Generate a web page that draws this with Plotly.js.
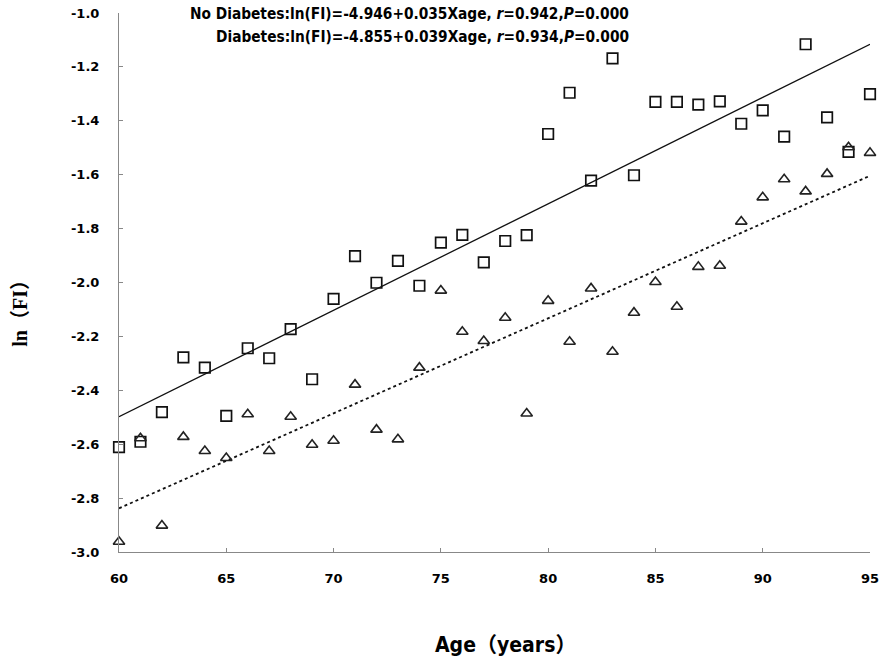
<!DOCTYPE html>
<html>
<head>
<meta charset="utf-8">
<script src="https://cdn.plot.ly/plotly-3.0.1.min.js"></script>
<style>html,body{margin:0;padding:0;background:#fff;}#chart{width:886px;height:662px;}</style>
</head>
<body>
<div id="chart"></div>
<script>
const ages = [60,61,62,63,64,65,66,67,68,69,70,71,72,73,74,75,76,77,78,79,80,81,82,83,84,85,86,87,88,89,90,91,92,93,94,95];
// squares (solid fit line)
const diabetesLnFI = [-2.611,-2.591,-2.481,-2.278,-2.316,-2.495,-2.244,-2.281,-2.173,-2.359,-2.061,-1.902,-2.001,-1.920,-2.012,-1.852,-1.823,-1.925,-1.846,-1.824,-1.449,-1.296,-1.622,-1.168,-1.602,-1.330,-1.330,-1.340,-1.328,-1.411,-1.361,-1.459,-1.116,-1.387,-1.515,-1.301];
// triangles (dotted fit line)
const noDiabetesLnFI = [-2.962,-2.578,-2.902,-2.573,-2.625,-2.651,-2.489,-2.625,-2.498,-2.602,-2.587,-2.379,-2.546,-2.582,-2.316,-2.030,-2.183,-2.217,-2.131,-2.486,-2.068,-2.220,-2.022,-2.257,-2.112,-1.998,-2.090,-1.942,-1.938,-1.774,-1.684,-1.617,-1.662,-1.597,-1.498,-1.519];
// fitted lines as drawn (end points)
const fitAges = [60, 95];
const fitDiabetes = [-2.498, -1.116];
const fitNoDiabetes = [-2.838, -1.604];
const xTickVals = [60,65,70,75,80,85,90,95];
const yTickVals = [-3.0,-2.8,-2.6,-2.4,-2.2,-2.0,-1.8,-1.6,-1.4,-1.2,-1.0];
const eqLines = [
  'No Diabetes:ln(FI)=-4.946+0.035Xage, <i>r</i>=0.942,<i>P</i>=0.000',
  'Diabetes:ln(FI)=-4.855+0.039Xage, <i>r</i>=0.934,<i>P</i>=0.000'
];
const xTitle = 'Age（years）';
const yTitle = 'ln（FI）';

const tickFont = {family: 'DejaVu Sans, sans-serif', size: 13, color: '#000', weight: 'bold'};
const condBold = 'DejaVu Sans Condensed, Noto Sans CJK SC, sans-serif';

const traces = [
  {x: fitAges, y: fitDiabetes, mode: 'lines', line: {color: '#111', width: 1.3}, hoverinfo: 'skip'},
  {x: fitAges, y: fitNoDiabetes, mode: 'lines', line: {color: '#111', width: 1.8, dash: 'dot'}, hoverinfo: 'skip'},
  {x: ages, y: diabetesLnFI, mode: 'markers', cliponaxis: false,
   marker: {symbol: 'square-open', size: 10.5, color: '#111', line: {width: 1.7, color: '#111'}}},
  {x: ages, y: noDiabetesLnFI, mode: 'markers', cliponaxis: false,
   marker: {symbol: 'triangle-up-open', size: 10, color: '#222', line: {width: 1.6, color: '#222'}}}
];

const layout = {
  width: 886, height: 662,
  margin: {l: 119, r: 16, t: 13, b: 110},
  paper_bgcolor: '#fff', plot_bgcolor: '#fff',
  showlegend: false,
  xaxis: {range: [60, 95], tickvals: xTickVals, ticktext: xTickVals.map(String),
    showgrid: false, zeroline: false, showline: true, linecolor: '#888', linewidth: 1,
    ticks: 'inside', ticklen: 4, tickcolor: '#888', tickfont: tickFont, ticklabelstandoff: 14},
  yaxis: {range: [-3.0, -1.0], tickvals: yTickVals, ticktext: yTickVals.map(v => v.toFixed(1)),
    showgrid: false, zeroline: false, showline: true, linecolor: '#888', linewidth: 1,
    ticks: 'inside', ticklen: 4, tickcolor: '#888', tickfont: tickFont, ticklabelstandoff: 16},
  annotations: [
    {text: eqLines[0], xref: 'paper', yref: 'paper', x: 0.682, y: 0.998, xanchor: 'right', yanchor: 'middle',
     showarrow: false, font: {family: condBold, size: 15.3, color: '#000', weight: 'bold'}},
    {text: eqLines[1], xref: 'paper', yref: 'paper', x: 0.682, y: 0.955, xanchor: 'right', yanchor: 'middle',
     showarrow: false, font: {family: condBold, size: 15.3, color: '#000', weight: 'bold'}},
    {text: xTitle, xref: 'paper', yref: 'paper', x: 0.514, y: -0.1725, xanchor: 'center', yanchor: 'middle',
     showarrow: false, font: {family: condBold, size: 21, color: '#000', weight: 'bold'}},
    {text: yTitle, xref: 'paper', yref: 'paper', x: -0.132, y: 0.453, xanchor: 'center', yanchor: 'middle',
     textangle: -90, showarrow: false, font: {family: 'Liberation Serif, DejaVu Serif, Noto Sans CJK SC, serif', size: 20, color: '#000', weight: 'bold'}}
  ]
};
Plotly.newPlot('chart', traces, layout, {displayModeBar: false, staticPlot: true});
</script>
</body>
</html>
